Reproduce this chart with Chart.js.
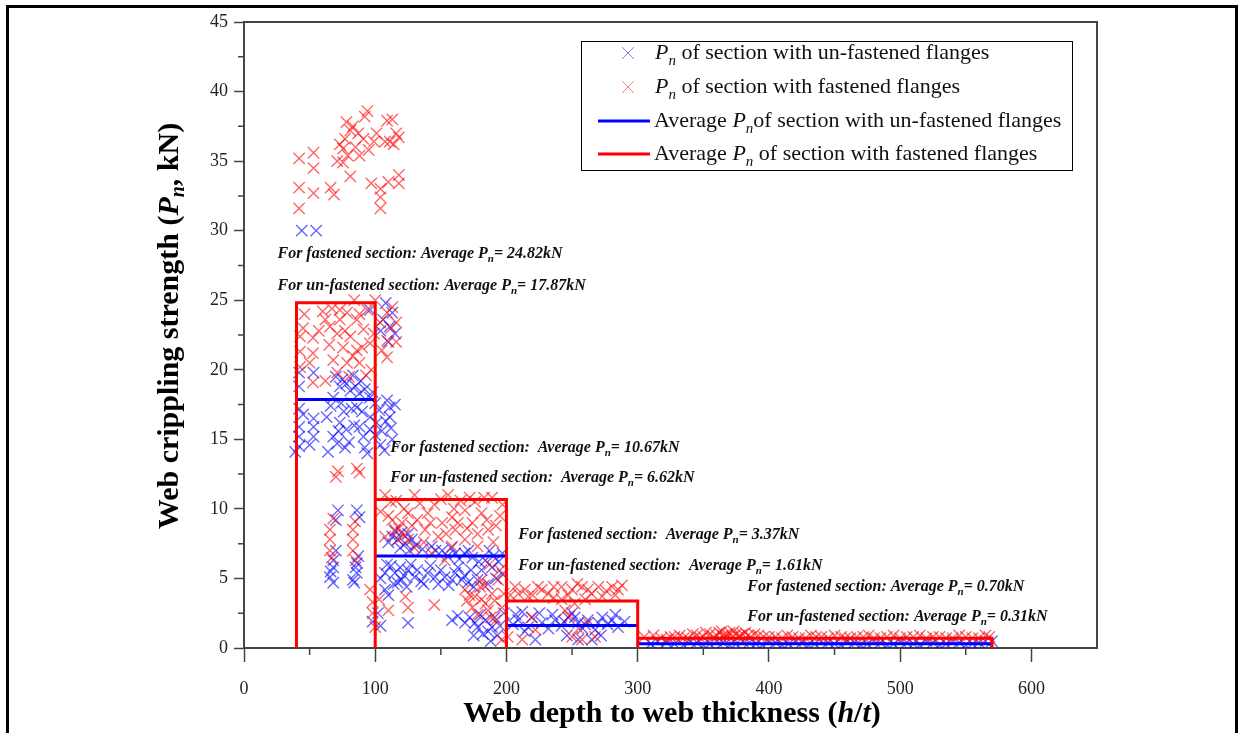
<!DOCTYPE html>
<html lang="en">
<head>
<meta charset="UTF-8">
<title>Web crippling strength vs h/t</title>
<script src="https://cdn.jsdelivr.net/npm/chart.js@4.4.1/dist/chart.umd.min.js"></script>
<style>
  body { margin: 0; background: #fff; overflow: hidden; }
  #wrap { position: relative; width: 1240px; height: 733px; }
  #frame { position: absolute; left: 6px; top: 5px; width: 1226px; height: 760px; border: 3px solid #000; pointer-events: none; }
</style>
</head>
<body>
<div id="wrap">
  <canvas id="chart" width="1240" height="733"></canvas>
  <div id="frame"></div>
</div>
<script>
// h/t bin edges and average strengths per bin
const binEdges = [40, 100, 200, 300, 570];
const avgFastened = [24.82, 10.67, 3.37, 0.70];
const avgUnfastened = [17.87, 6.62, 1.61, 0.31];

// measured points (h/t, Pn in kN), un-fastened flanges
const unfastenedPts = [
  [44,30],[55,30],
  [42,19.8],[53,19.8],[42,18.8],[42,15.9],[53,15.9],[42,15.2],[53,15.2],[42,14.5],[53,16.5],[42,17.2],
  [45,16.8],[50,14.6],
  [73,18.8],[75,19.3],[81,18.5],[88,18.3],[96,18.0],[68,18.0],[70,19.5],[78,19.0],[85,18.8],[92,18.6],
  [100,17.6],[103,17.1],[109,17.8],[111,17.3],[73,16.2],[78,15.7],[68,15.2],[88,15.9],[96,15.7],[91,15.2],
  [71,14.7],[63,16.6],[111,16.6],[96,16.6],[84,16.0],[100,15.3],[105,15.6],[113,15.0],[76,17.0],[86,17.3],
  [64,14.1],[39,14.1],[80,14.8],[92,14.4],[104,14.6],[108,16.3],[115,17.5],
  [66,17.4],[74,17.6],[82,17.2],[90,17.0],[98,18.4],[83,19.6],[89,19.2],[94,14.0],[101,16.2],[107,14.2],
  [112,15.8],[72,15.6],[77,14.4],
  [106,23.6],[111,23.1],[96,24.3],[113,24.1],[108,24.8],[104,22.8],[115,22.6],[110,22.0],
  [71.6,9.9],[70,9.2],[68,6.3],[68,5.8],[65.5,5.1],[68,4.7],[70,7.0],[66,5.5],
  [88,9.4],[86,9.9],[86,6.1],[86,5.4],[83,4.9],[85,5.8],[87,6.6],[84,4.7],
  [98,1.9],[102,2.5],[104,1.6],
  [117,7.8],[113,8.0],[128,7.8],[123,7.5],[120,8.3],[125,8.2],[143,7.3],[151,7.0],[161,6.8],[168,6.8],
  [174,6.5],[184,6.3],[189,5.8],[146,7.0],[155,6.6],[190,6.6],[194,6.2],
  [110,7.6],[115,8.4],[119,7.2],[126,7.0],[131,7.4],[136,7.1],[158,7.2],[164,6.4],[171,7.0],[179,6.2],
  [187,7.0],[197,6.8],
  [107.5,5.4],[115,5.4],[120,4.9],[125,5.6],[130,5.1],[140,5.4],[145.6,5.1],[153,5.1],[158.5,4.9],[166,4.9],
  [170.7,4.7],[161,5.4],[107.5,4.2],[117,4.7],[112,5.9],[122,5.2],[135,4.8],[148,4.6],[175,4.4],[110,3.8],
  [104,5.0],[109,6.0],[114,4.6],[119,5.8],[124,4.4],[127,6.0],[132,5.6],[137,4.6],[142,5.9],[150,5.6],
  [156,4.5],[163,5.8],[168,5.2],[173,5.6],[178,4.9],[181,5.6],[186,4.6],[192,5.0],[197,5.3],
  [125,1.8],[158.5,2.0],[168.4,1.8],[176,1.8],[184,2.0],[191,2.2],[189,1.5],[178,1.5],[180,2.4],[186,1.2],
  [195,1.6],[172,2.2],[163,2.3],[182,1.0],[193,0.9],[188,0.5],[198,2.5],[175,0.9],
  [209,2.0],[219.5,2.2],[227,1.8],[237,2.0],[247,2.2],[254.6,1.8],[262,2.0],[273,2.2],[280.5,2.0],[285,1.5],
  [216.5,1.5],[267.5,1.3],[222,0.6],[254.6,0.6],[265,0.6],[205,1.7],[232,1.4],[242,1.6],[258,1.4],[277,1.7],
  [212,2.6],[250,2.5],[207,2.4],[225,2.5],[235,2.4],[244,1.9],[252,2.2],[260,1.7],[270,1.8],[283,2.4],
  [290,1.9],[214,1.2],[246,0.9],[272,0.9],
  [310,0.3],[322,0.4],[335,0.2],[345,0.4],[355,0.3],[365,0.4],[375,0.3],[385,0.4],[395,0.2],[405,0.4],
  [415,0.3],[425,0.4],[435,0.3],[445,0.4],[455,0.2],[465,0.4],[475,0.3],[485,0.4],[495,0.3],[505,0.4],
  [515,0.2],[525,0.4],[535,0.3],[545,0.4],[555,0.3],[565,0.5],[570,0.5],
  [315,0.5],[328,0.3],[340,0.5],[350,0.2],[360,0.5],[370,0.2],[380,0.5],[390,0.3],[400,0.5],[410,0.2],
  [420,0.5],[430,0.2],[440,0.5],[450,0.3],[460,0.5],[470,0.2],[480,0.5],[490,0.2],[500,0.5],[510,0.3],
  [520,0.5],[530,0.2],[540,0.5],[550,0.2],[560,0.4]
];

// measured points, fastened flanges
const fastenedPts = [
  [42,35.2],[42,33.1],[42,31.6],[53,35.6],[53,34.5],[53,32.7],[94,38.6],[109,37.9],[81,37.2],[77,36.6],
  [75.5,35.9],[79,35.4],[91,36.6],[99,36.4],[107.5,36.4],[118,36.7],[111,36.4],[75.5,34.9],[81,33.9],[97,33.4],
  [118,33.4],[104,32.4],[104,31.6],[68.6,32.6],[88,35.4],[85,36.0],[116,37.0],[66,33.1],[104,33.0],[118,34.0],
  [73,36.2],[83,37.5],[113,38.0],[71,35.0],[87,37.0],[95,35.8],[101,37.0],[114,36.2],[110,33.5],[92,38.2],
  [78,37.8],
  [42.7,22.4],[52.6,22.3],[42.7,21.3],[52.6,21.2],[42.7,20.2],[65.5,23.1],[73,23.6],[78.5,24.1],[86,23.6],[71,22.6],
  [81,22.4],[91,22.9],[75.5,21.6],[86,21.4],[96,21.9],[68,20.7],[78.5,20.5],[88,20.5],[71,19.8],[109,20.9],
  [109,22.1],[103.7,23.4],[109,24.1],[94,24.3],[73,24.3],[52.6,19.1],[113,24.5],[116,23.4],[100,25.0],[84,25.0],
  [65,21.8],[60,24.2],[46,24.0],[97,20.0],[80,19.5],[62,19.2],
  [45,23.0],[50,20.5],[57,22.8],[62,23.6],[67,24.4],[77,22.8],[83,21.0],[90,21.6],[99,22.6],[105,21.4],
  [112,23.0],[116,22.0],[93,19.6],[88,24.0],
  [71.6,12.7],[88,12.6],[68,9.3],[84.6,9.1],[65.5,7.8],[65.5,8.5],[83,7.8],[83,8.5],[65.5,7.0],[83,7.0],
  [67,6.5],[85,6.3],[70,12.3],[86,12.9],
  [98,3.3],[98,2.5],[96,4.2],[100,1.5],
  [107.5,11.0],[130,11.0],[155.5,11.0],[189,10.8],[113,9.2],[120.4,9.0],[125,9.7],[140,9.7],[151,9.0],[158.5,9.4],
  [168.4,9.9],[174,9.0],[181,9.7],[186,8.5],[161,8.5],[138,8.5],[107.5,8.0],[117.4,7.8],[125,7.8],[148,8.0],
  [168.4,7.8],[158.5,7.3],[178,7.3],[115,8.5],[145,10.3],[165,10.6],[176,10.5],[195,9.5],[132,9.2],[104,9.8],
  [112,10.5],[190,7.6],[122,8.1],[118,8.6],
  [110,9.5],[116,10.6],[122,10.0],[128,8.8],[134,10.4],[137,7.6],[142,9.0],[150,10.7],[154,8.2],[160,10.0],
  [163,9.0],[170,8.6],[172,10.8],[178,8.2],[183,10.8],[185,9.2],[192,8.8],[197,10.3],[130,7.2],[143,6.8],
  [153,6.3],[187,6.0],[195,5.6],
  [168.4,4.2],[176,3.7],[184,3.2],[189,3.9],[193.6,4.9],[181,4.9],[174,2.9],[186,2.7],[196.6,2.9],[123,3.7],
  [125,2.9],[196.6,0.6],[170,3.4],[180,4.4],[191,3.4],[188,2.2],[110,2.7],[103,3.5],[145,3.1],
  [181,3.5],[178,2.4],[192,2.0],[183,4.5],[198,3.9],[172,3.8],
  [206.6,4.4],[214,4.2],[224,4.4],[231.7,3.9],[242,4.4],[250,4.2],[257.6,4.4],[265,3.9],[270,4.4],[280.5,4.4],
  [285,4.2],[216.5,3.7],[242,3.5],[252,3.2],[260,3.5],[273,3.7],[244.7,2.7],[201,0.8],[212,0.6],[250,0.8],
  [257.6,0.6],[267.5,0.8],[236,3.6],[203,3.8],
  [209,3.9],[220,3.8],[227,4.2],[236,4.4],[247,3.8],[254,4.6],[262,4.2],[276,4.1],[283,3.8],[288,4.5],
  [219,2.2],[222,1.3],[255,1.4],[262,1.8],[248,2.3],
  [318,0.7],[325,0.8],[332,0.9],[338,0.7],[345,0.9],[350,0.8],[355,1.0],[358,0.8],[362,1.1],[365,0.9],
  [368,1.0],[370,1.1],[372,0.8],[375,1.0],[378,0.9],[382,1.1],[386,0.8],[392,0.9],[400,0.8],[410,0.7],
  [418,0.8],[428,0.7],[436,0.8],[445,0.7],[455,0.8],[462,0.7],[472,0.8],[480,0.7],[490,0.8],[500,0.7],
  [510,0.8],[520,0.7],[530,0.8],[540,0.7],[550,0.8],[560,0.7],[568,0.8],
  [305,0.8],[312,0.9],[322,0.6],[328,0.8],[335,0.7],[342,1.0],[348,0.7],[352,1.1],[360,0.9],[364,1.2],
  [367,0.8],[373,1.2],[377,0.8],[380,1.0],[384,0.9],[389,1.0],[396,0.8],[405,0.8],[414,0.9],[423,0.7],
  [432,0.9],[440,0.8],[450,0.9],[458,0.7],[467,0.8],[476,0.9],[485,0.7],[495,0.9],[505,0.8],[515,0.9],
  [525,0.8],[535,0.7],[545,0.9],[555,0.7],[565,0.9]
];

const xTicks = [0, 100, 200, 300, 400, 500, 600];
const yTicks = [0, 5, 10, 15, 20, 25, 30, 35, 40, 45];

// annotation labels: [text before P, value text, anchor x (h/t), anchor y (kN)]
const notes = [
  ['For fastened section: Average ', '= 24.82kN', 25.5, 28.3],
  ['For un-fastened section: Average ', '= 17.87kN', 25.5, 26.0],
  ['For fastened section:  Average ', '= 10.67kN', 111.5, 14.4],
  ['For un-fastened section:  Average ', '= 6.62kN', 111.5, 12.2],
  ['For fastened section:  Average ', '= 3.37kN', 209, 8.1],
  ['For un-fastened section:  Average ', '= 1.61kN', 209, 5.9],
  ['For fastened section: Average ', '= 0.70kN', 383.5, 4.4],
  ['For un-fastened section: Average ', '= 0.31kN', 383.5, 2.25]
];

const BLUE = '#0000ff', RED = '#ff0000';
const BLUE_M = 'rgba(0,0,255,0.6)', RED_M = 'rgba(255,0,0,0.6)';
const SERIF = '"Liberation Serif", "Times New Roman", serif';

function redOutline() {
  const pts = [];
  for (let i = 0; i < avgFastened.length; i++) {
    const a = binEdges[i], b = binEdges[i + 1], v = avgFastened[i];
    if (i === 0) pts.push({x: a, y: 0});
    pts.push({x: a, y: v}, {x: b, y: v}, {x: b, y: 0});
  }
  return pts;
}
function blueSteps() {
  const pts = [];
  avgUnfastened.forEach((v, i) => {
    if (i > 0) pts.push({x: binEdges[i], y: null});
    pts.push({x: binEdges[i], y: v}, {x: binEdges[i + 1], y: v});
  });
  return pts;
}

// draws a run of text pieces: {t, font, dy}
function richWidth(ctx, parts) {
  let w = 0;
  parts.forEach(p => { ctx.font = p.font; w += ctx.measureText(p.t).width; });
  return w;
}
function richText(ctx, parts, x, y) {
  parts.forEach(p => {
    ctx.font = p.font;
    ctx.fillText(p.t, x, y + (p.dy || 0));
    x += ctx.measureText(p.t).width;
  });
  return x;
}

const decor = {
  id: 'decor',
  afterDraw(chart) {
    const ctx = chart.ctx, xs = chart.scales.x, ys = chart.scales.y, ca = chart.chartArea;
    ctx.save();
    // frame top/right
    ctx.strokeStyle = '#444'; ctx.lineWidth = 2;
    ctx.beginPath();
    ctx.moveTo(ca.left, ca.top); ctx.lineTo(ca.right, ca.top); ctx.lineTo(ca.right, ca.bottom);
    ctx.stroke();
    // minor ticks
    ctx.lineWidth = 1.5;
    ctx.beginPath();
    for (let v = 50; v < 650; v += 100) {
      const px = xs.getPixelForValue(v);
      ctx.moveTo(px, ca.bottom); ctx.lineTo(px, ca.bottom + 7);
    }
    for (let v = 2.5; v < 45; v += 5) {
      const py = ys.getPixelForValue(v);
      ctx.moveTo(ca.left, py); ctx.lineTo(ca.left - 6, py);
    }
    ctx.stroke();

    // annotations
    ctx.fillStyle = '#111';
    ctx.textBaseline = 'middle';
    ctx.textAlign = 'left';
    const bf = 'italic bold 16px ' + SERIF, sf = 'italic bold 11px ' + SERIF;
    notes.forEach(n => {
      const x = xs.getPixelForValue(n[2]), y = ys.getPixelForValue(n[3]);
      richText(ctx, [{t: n[0], font: bf}, {t: 'P', font: bf}, {t: 'n', font: sf, dy: 5}, {t: n[1], font: bf}], x, y);
    });

    // legend
    const lx = 581, ly = 41, lw = 491, lh = 129;
    ctx.fillStyle = '#fff';
    ctx.fillRect(lx, ly, lw, lh);
    ctx.strokeStyle = '#000'; ctx.lineWidth = 1;
    ctx.strokeRect(lx + 0.5, ly + 0.5, lw, lh);
    const rows = [53, 87, 121, 154];
    const rf = '22px ' + SERIF, itf = 'italic 22px ' + SERIF, isf = 'italic 15px ' + SERIF;
    ctx.fillStyle = '#111';
    // markers
    [['rgba(0,0,255,0.5)', rows[0]], ['rgba(255,0,0,0.5)', rows[1]]].forEach(([c, y]) => {
      ctx.strokeStyle = c; ctx.lineWidth = 1;
      ctx.beginPath();
      ctx.moveTo(622, y - 6); ctx.lineTo(634, y + 6);
      ctx.moveTo(634, y - 6); ctx.lineTo(622, y + 6);
      ctx.stroke();
    });
    [[BLUE, rows[2]], [RED, rows[3]]].forEach(([c, y]) => {
      ctx.strokeStyle = c; ctx.lineWidth = 3;
      ctx.beginPath(); ctx.moveTo(598, y); ctx.lineTo(650, y); ctx.stroke();
    });
    richText(ctx, [{t: 'P', font: itf}, {t: 'n', font: isf, dy: 8}, {t: ' of section with un-fastened flanges', font: rf}], 655, rows[0]);
    richText(ctx, [{t: 'P', font: itf}, {t: 'n', font: isf, dy: 8}, {t: ' of section with fastened flanges', font: rf}], 655, rows[1]);
    richText(ctx, [{t: 'Average ', font: rf}, {t: 'P', font: itf}, {t: 'n', font: isf, dy: 8}, {t: 'of section with un-fastened flanges', font: rf}], 654, rows[2]);
    richText(ctx, [{t: 'Average ', font: rf}, {t: 'P', font: itf}, {t: 'n', font: isf, dy: 8}, {t: ' of section with fastened flanges', font: rf}], 654, rows[3]);

    // axis titles
    const tf = 'bold 30px ' + SERIF, tif = 'bold italic 30px ' + SERIF, tsf = 'bold italic 20px ' + SERIF;
    const xt = [{t: 'Web depth to web thickness (', font: tf}, {t: 'h', font: tif}, {t: '/', font: tf}, {t: 't', font: tif}, {t: ')', font: tf}];
    ctx.fillStyle = '#000';
    richText(ctx, xt, 672 - richWidth(ctx, xt) / 2, 714);
    const yt = [{t: 'Web crippling strength (', font: tf}, {t: 'P', font: tif}, {t: 'n', font: tsf, dy: 9}, {t: ', kN)', font: tf}];
    ctx.translate(170, 326);
    ctx.rotate(-Math.PI / 2);
    richText(ctx, yt, -richWidth(ctx, yt) / 2, 0);
    ctx.restore();
  }
};

const ctx = document.getElementById('chart').getContext('2d');
new Chart(ctx, {
  type: 'scatter',
  data: {
    datasets: [
      {
        label: 'Average Pn fastened',
        data: redOutline(),
        showLine: true, borderColor: RED, borderWidth: 3, pointRadius: 0, order: 0, spanGaps: false
      },
      {
        label: 'Average Pn un-fastened',
        data: blueSteps(),
        showLine: true, borderColor: BLUE, borderWidth: 3, pointRadius: 0, order: 1, spanGaps: false
      },
      {
        label: 'Pn fastened',
        data: fastenedPts.map(p => ({x: p[0], y: p[1]})),
        pointStyle: 'crossRot', pointRadius: 8, borderColor: RED_M, borderWidth: 1.4, order: 2
      },
      {
        label: 'Pn un-fastened',
        data: unfastenedPts.map(p => ({x: p[0], y: p[1]})),
        pointStyle: 'crossRot', pointRadius: 8, borderColor: BLUE_M, borderWidth: 1.4, order: 3
      }
    ]
  },
  options: {
    responsive: false,
    animation: false,
    layout: { padding: { left: 0, top: 22, right: 143, bottom: 0 } },
    plugins: { legend: { display: false }, tooltip: { enabled: false } },
    scales: {
      x: {
        type: 'linear', min: 0, max: 650,
        afterFit: s => { s.height = 85; },
        afterBuildTicks: s => { s.ticks = xTicks.map(v => ({value: v})); },
        ticks: { font: { family: SERIF, size: 18 }, color: '#222', padding: 16, maxRotation: 0 },
        grid: { drawOnChartArea: false, drawTicks: true, tickLength: 14, color: '#444', tickWidth: 1.5 },
        border: { color: '#444', width: 2 }
      },
      y: {
        min: 0, max: 45,
        afterFit: s => { s.width = 244; },
        afterBuildTicks: s => { s.ticks = yTicks.map(v => ({value: v})); },
        ticks: { font: { family: SERIF, size: 18 }, color: '#222', padding: 6 },
        grid: { drawOnChartArea: false, drawTicks: true, tickLength: 10, color: '#444', tickWidth: 1.5 },
        border: { color: '#444', width: 2 }
      }
    }
  },
  plugins: [decor]
});
</script>
</body>
</html>
